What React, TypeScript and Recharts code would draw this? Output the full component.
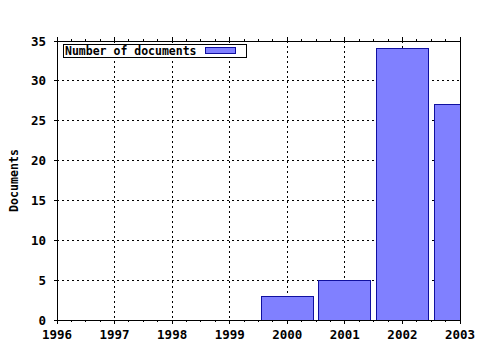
import React from 'react';
import { ComposedChart, Bar, XAxis, YAxis, CartesianGrid, Label } from 'recharts';

const years = [2000, 2001, 2002, 2003];
const documents = [3, 5, 34, 27];
const yearTicks = [1996, 1997, 1998, 1999, 2000, 2001, 2002, 2003];
const docTicks = [0, 5, 10, 15, 20, 25, 30, 35];
const seriesName = 'Number of documents';
const yTitle = 'Documents';

const data = years.map((y, i) => ({ year: y, docs: documents[i] }));
const quarterTicks = yearTicks.flatMap((y, i) =>
  i < yearTicks.length - 1 ? [y, y + 0.25, y + 0.5, y + 0.75] : [y]
);

const FONT = '"DejaVu Sans Mono", monospace';
const FILL = '#8080ff';
const EDGE = '#1010a0';

const BottomTick = (props: any) => {
  const { x, y, payload } = props;
  const major = Number.isInteger(payload.value);
  return (
    <g>
      <line x1={x} x2={x} y1={y} y2={y + (major ? 4 : 2)} stroke="#000" />
      {major && (
        <text x={x} y={y + 19} textAnchor="middle" fontFamily={FONT} fontWeight="bold" fontSize={12.5} fill="#000">
          {payload.value}
        </text>
      )}
    </g>
  );
};

const TopTick = (props: any) => {
  const { x, y, payload } = props;
  const major = Number.isInteger(payload.value);
  return <line x1={x} x2={x} y1={y} y2={y - (major ? 4 : 2)} stroke="#000" />;
};

const LeftTick = (props: any) => {
  const { x, y, payload } = props;
  return (
    <g>
      <line x1={x} x2={x - 3} y1={y} y2={y} stroke="#000" />
      <text x={x - 11} y={y + 4.5} textAnchor="end" fontFamily={FONT} fontWeight="bold" fontSize={12.5} fill="#000">
        {payload.value}
      </text>
    </g>
  );
};

const RightTick = (props: any) => {
  const { x, y } = props;
  return <line x1={x} x2={x + 2} y1={y} y2={y} stroke="#000" />;
};

export default function App() {
  return (
    <div style={{ position: 'absolute', left: 0, top: 0, width: 480, height: 350, background: '#fff' }}>
      <style>{'.recharts-wrapper line, .recharts-wrapper path { shape-rendering: crispEdges; }'}</style>
      <ComposedChart width={480} height={350} data={data} margin={{ top: 40, right: 19, bottom: 0, left: 0 }} barCategoryGap="5%">
        <CartesianGrid stroke="#000" strokeDasharray="2 3" xAxisId="grid" yAxisId="left" />
        <XAxis
          xAxisId="grid"
          dataKey="year"
          type="number"
          domain={[1996, 2003]}
          allowDataOverflow
          ticks={yearTicks}
          interval={0}
          hide
        />
        <Bar dataKey="docs" xAxisId="bottom" yAxisId="left" fill={FILL} stroke={EDGE} strokeWidth={1} isAnimationActive={false} />
        <XAxis
          xAxisId="bottom"
          dataKey="year"
          type="number"
          domain={[1996, 2003]}
          allowDataOverflow
          ticks={quarterTicks}
          interval={0}
          height={30}
          tickSize={0}
          tickMargin={0}
          tickLine={false}
          axisLine={{ stroke: '#000' }}
          tick={<BottomTick />}
        />
        <XAxis
          xAxisId="top"
          orientation="top"
          dataKey="year"
          type="number"
          domain={[1996, 2003]}
          allowDataOverflow
          ticks={quarterTicks}
          interval={0}
          height={1}
          tickSize={0}
          tickMargin={0}
          tickLine={false}
          axisLine={{ stroke: '#000' }}
          tick={<TopTick />}
        />
        <YAxis
          yAxisId="left"
          domain={[0, 35]}
          ticks={docTicks}
          interval={0}
          width={57}
          tickSize={0}
          tickMargin={0}
          tickLine={false}
          axisLine={{ stroke: '#000' }}
          tick={<LeftTick />}
        >
          <Label
            content={(p: any) => {
              const vb = p.viewBox || { x: 0, y: 41, width: 57, height: 279 };
              const cx = vb.x + 18;
              const cy = vb.y + vb.height / 2;
              return (
                <text
                  x={cx}
                  y={cy}
                  transform={`rotate(-90 ${cx} ${cy})`}
                  textAnchor="middle"
                  fontFamily={FONT}
                  fontWeight="bold"
                  fontSize={11.6}
                  fill="#000"
                >
                  {yTitle}
                </text>
              );
            }}
          />
        </YAxis>
        <YAxis
          yAxisId="right"
          orientation="right"
          domain={[0, 35]}
          ticks={docTicks}
          interval={0}
          width={1}
          tickSize={0}
          tickMargin={0}
          tickLine={false}
          axisLine={{ stroke: '#000' }}
          tick={<RightTick />}
        />
      </ComposedChart>
      <div
        style={{
          position: 'absolute',
          left: 63,
          top: 44,
          width: 182,
          height: 12,
          border: '1px solid #000',
          background: '#fff',
          fontFamily: FONT,
          fontWeight: 'bold',
          fontSize: 11.5,
          lineHeight: '12px',
          color: '#000',
        }}
      >
        <span style={{ position: 'absolute', left: 1, top: 0, whiteSpace: 'nowrap' }}>{seriesName}</span>
        <span
          style={{
            position: 'absolute',
            left: 141,
            top: 2,
            width: 29,
            height: 5,
            background: FILL,
            border: `1px solid ${EDGE}`,
          }}
        />
      </div>
    </div>
  );
}
